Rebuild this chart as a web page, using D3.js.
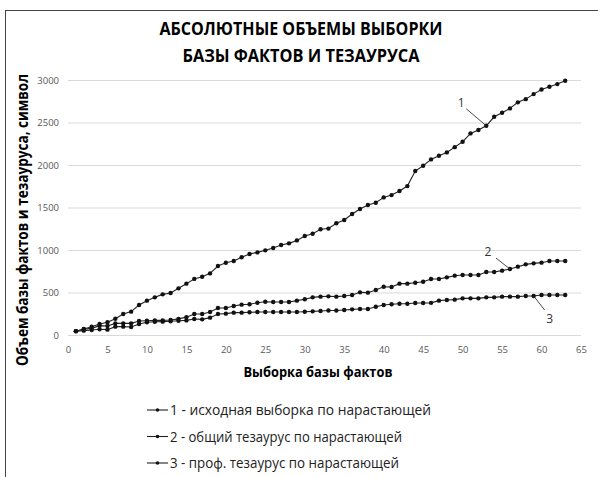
<!DOCTYPE html>
<html>
<head>
    <meta charset="utf-8" />
    <title>Абсолютные объемы выборки</title>
    <style>
        body { margin: 0; background: #fff; }
        text { font-family: "Open Sans", "Noto Sans", sans-serif; }
    </style>
    <script type="text/javascript" src="https://cdn.jsdelivr.net/npm/d3@7/dist/d3.min.js"></script>
</head>
<body>
    <div id="svg"></div>

    <script type="text/javascript">
        // x = 1..63 (выборка базы фактов)
        var sample = d3.range(1, 64);

        var source = [45, 70, 98, 130, 150, 192, 247, 275, 353, 404,
            443, 478, 494, 549, 604, 660, 686, 725, 811, 850,
            870, 914, 953, 972, 996, 1023, 1058, 1078, 1113, 1164,
            1192, 1245, 1252, 1314, 1353, 1423, 1482, 1529, 1556, 1619,
            1646, 1694, 1752, 1929, 1991, 2066, 2109, 2148, 2210, 2273,
            2372, 2411, 2461, 2567, 2614, 2666, 2737, 2775, 2834, 2889,
            2920, 2952, 2991];

        var general = [45, 67, 78, 110, 106, 137, 137, 137, 165, 168,
            172, 172, 176, 190, 210, 247, 247, 270, 318, 318,
            341, 357, 361, 380, 392, 388, 388, 388, 404, 420,
            443, 451, 455, 451, 459, 470, 502, 498, 529, 568,
            565, 604, 604, 615, 627, 659, 659, 678, 698, 706,
            706, 706, 741, 741, 757, 776, 804, 831, 843, 851,
            870, 870, 870];

        var prof = [45, 51, 59, 67, 63, 98, 98, 94, 130, 150,
            155, 157, 161, 168, 172, 188, 184, 204, 247, 251,
            263, 263, 267, 270, 270, 270, 270, 270, 270, 274,
            278, 282, 288, 288, 294, 302, 306, 306, 333, 353,
            361, 368, 368, 376, 376, 378, 404, 412, 416, 431,
            431, 431, 443, 443, 451, 451, 451, 459, 459, 470,
            470, 470, 470];

        var xTicks = d3.range(0, 66, 5);
        var yTicks = d3.range(0, 3001, 500);

        var seriesNames = ['1 - исходная выборка по нарастающей',
            '2 - общий тезаурус по нарастающей',
            '3 - проф. тезаурус по нарастающей'];
        var legendWidths = [261, 232, 229];
        var seriesLabels = ['1', '2', '3'];
        var series = [source, general, prof];

        var width = 598,
            height = 477;

        var svg = d3.select('#svg')
            .append('svg')
            .attr('width', width)
            .attr('height', height);

        // рамка диаграммы
        svg.append('rect')
            .attr('x', 5.5).attr('y', 10.5)
            .attr('width', 600).attr('height', 480)
            .attr('fill', 'none')
            .attr('stroke', '#444');

        var xScale = d3.scaleLinear()
            .domain([0, 65])
            .range([68, 581]);

        var yScale = d3.scaleLinear()
            .domain([0, 3000])
            .range([335, 80]);

        // сетка
        svg.append('g')
            .selectAll('line')
            .data(yTicks)
            .enter()
            .append('line')
            .attr('x1', xScale(0))
            .attr('x2', xScale(65))
            .attr('y1', d => yScale(d) + 0.5)
            .attr('y2', d => yScale(d) + 0.5)
            .attr('stroke', '#d9d9d9');

        var yAxis = d3.axisLeft(yScale).tickValues(yTicks).tickFormat(d3.format('d'))
            .tickSize(0).tickPadding(9);
        var xAxis = d3.axisBottom(xScale).tickValues(xTicks).tickSize(0).tickPadding(11);

        var gY = svg.append('g')
            .attr('transform', 'translate(' + xScale(0) + ', 0)')
            .call(yAxis);
        var gX = svg.append('g')
            .attr('transform', 'translate(0, ' + yScale(0) + ')')
            .call(xAxis);

        [gX, gY].forEach(function(g) {
            g.select('.domain').remove();
            g.selectAll('text')
                .attr('fill', '#595959')
                .style('font-size', '9.5px')
                .style('font-family', '"Open Sans", sans-serif');
        });

        var line = d3.line()
            .x((d, i) => xScale(sample[i]))
            .y(d => yScale(d));

        series.forEach(function(values) {
            svg.append('path')
                .datum(values)
                .attr('d', line)
                .attr('fill', 'none')
                .attr('stroke', '#222')
                .attr('stroke-width', 1.1);

            svg.append('g')
                .selectAll('circle')
                .data(values)
                .enter()
                .append('circle')
                .attr('cx', (d, i) => xScale(sample[i]))
                .attr('cy', d => yScale(d))
                .attr('r', 2.2)
                .attr('fill', '#111');
        });

        // подписи серий с выносками
        var callouts = [
            { s: 0, at: 53, dx: -20, dy: -17, tx: -5, ty: -2 },
            { s: 1, at: 56, dx: -14, dy: -11, tx: -8, ty: -2 },
            { s: 2, at: 59, dx: 11, dy: 14, tx: 5, ty: 13 }
        ];
        callouts.forEach(function(c) {
            var px = xScale(c.at), py = yScale(series[c.s][c.at - 1]);
            svg.append('line')
                .attr('x1', px).attr('y1', py)
                .attr('x2', px + c.dx).attr('y2', py + c.dy)
                .attr('stroke', '#333').attr('stroke-width', 0.9);
            svg.append('text')
                .attr('x', px + c.dx + c.tx)
                .attr('y', py + c.dy + c.ty)
                .attr('text-anchor', 'middle')
                .attr('fill', '#333')
                .style('font-size', '12px')
                .text(seriesLabels[c.s]);
        });

        // заголовок
        svg.append('text')
            .attr('x', 301).attr('y', 35)
            .attr('text-anchor', 'middle')
            .attr('textLength', 283).attr('lengthAdjust', 'spacingAndGlyphs')
            .style('font-size', '17.5px').style('font-weight', 'bold')
            .text('АБСОЛЮТНЫЕ ОБЪЕМЫ ВЫБОРКИ');
        svg.append('text')
            .attr('x', 301).attr('y', 62)
            .attr('text-anchor', 'middle')
            .attr('textLength', 237).attr('lengthAdjust', 'spacingAndGlyphs')
            .style('font-size', '17.5px').style('font-weight', 'bold')
            .text('БАЗЫ ФАКТОВ И ТЕЗАУРУСА');

        // подписи осей
        svg.append('text')
            .attr('x', 318).attr('y', 377)
            .attr('text-anchor', 'middle')
            .attr('textLength', 149).attr('lengthAdjust', 'spacingAndGlyphs')
            .style('font-size', '15px').style('font-weight', 'bold')
            .text('Выборка базы фактов');
        svg.append('text')
            .attr('transform', 'translate(28, 220) rotate(-90)')
            .attr('text-anchor', 'middle')
            .attr('textLength', 292)
            .attr('lengthAdjust', 'spacingAndGlyphs')
            .style('font-size', '15.5px').style('font-weight', 'bold')
            .text('Объем базы фактов и тезауруса, символ');

        // легенда
        var legend = svg.append('g')
            .selectAll('g')
            .data(seriesNames)
            .enter()
            .append('g')
            .attr('transform', (d, i) => 'translate(147, ' + (410 + i * 26.5) + ')');
        legend.append('line')
            .attr('x1', 0).attr('x2', 21)
            .attr('stroke', '#222').attr('stroke-width', 1.1);
        legend.append('circle')
            .attr('cx', 10.5).attr('r', 1.8)
            .attr('fill', '#111');
        legend.append('text')
            .attr('x', 23).attr('dy', '0.35em')
            .attr('fill', '#222')
            .attr('textLength', (d, i) => legendWidths[i])
            .attr('lengthAdjust', 'spacingAndGlyphs')
            .style('font-size', '15px')
            .text(d => d);
    </script>
</body>
</html>
